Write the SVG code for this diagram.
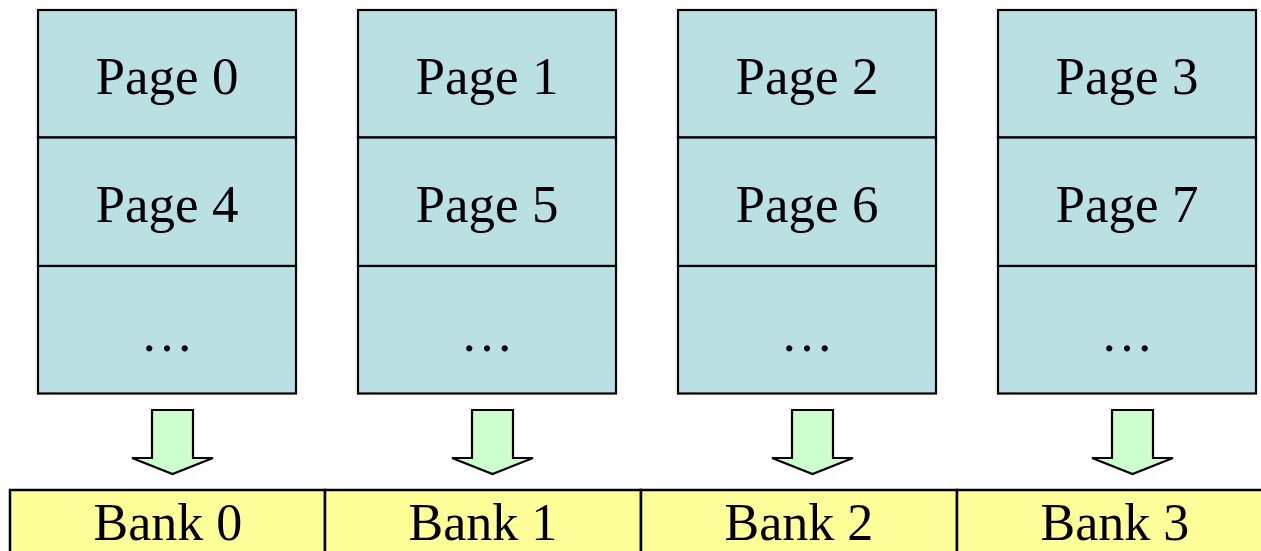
<svg xmlns="http://www.w3.org/2000/svg" width="1261" height="551" viewBox="0 0 1261 551">
  <style>
    .cell { fill: #bae0e3; stroke: #000; stroke-width: 2.2; }
    .bank { fill: #ffff99; stroke: #000; stroke-width: 2.5; }
    .down { fill: #ccffcc; stroke: #000; stroke-width: 2.2; stroke-linejoin: miter; }
    .lbl { font-family: "Liberation Serif", "Times New Roman", serif; font-size: 53px; fill: #000; text-anchor: middle; }
    .blbl { font-family: "Liberation Serif", "Times New Roman", serif; font-size: 52px; fill: #000; text-anchor: middle; }
  </style>
  <defs>
    <path id="downArrow" class="down" d="M-21,0 H20 V48 H40 L-0.5,64 L-41,48 H-21 Z"/>
  </defs>

  <rect width="1261" height="551" fill="#fff"/>

  <!-- page columns -->
  <g id="column-0">
    <rect class="cell" x="38" y="10" width="258" height="127.5"/>
    <rect class="cell" x="38" y="137.5" width="258" height="128.5"/>
    <rect class="cell" x="38" y="266" width="258" height="127.5"/>
    <text class="lbl" x="167" y="94">Page 0</text>
    <text class="lbl" x="167" y="222">Page 4</text>
    <text class="lbl" x="167" y="351">…</text>
  </g>
  <g id="column-1">
    <rect class="cell" x="358" y="10" width="258" height="127.5"/>
    <rect class="cell" x="358" y="137.5" width="258" height="128.5"/>
    <rect class="cell" x="358" y="266" width="258" height="127.5"/>
    <text class="lbl" x="487" y="94">Page 1</text>
    <text class="lbl" x="487" y="222">Page 5</text>
    <text class="lbl" x="487" y="351">…</text>
  </g>
  <g id="column-2">
    <rect class="cell" x="678" y="10" width="258" height="127.5"/>
    <rect class="cell" x="678" y="137.5" width="258" height="128.5"/>
    <rect class="cell" x="678" y="266" width="258" height="127.5"/>
    <text class="lbl" x="807" y="94">Page 2</text>
    <text class="lbl" x="807" y="222">Page 6</text>
    <text class="lbl" x="807" y="351">…</text>
  </g>
  <g id="column-3">
    <rect class="cell" x="998" y="10" width="258" height="127.5"/>
    <rect class="cell" x="998" y="137.5" width="258" height="128.5"/>
    <rect class="cell" x="998" y="266" width="258" height="127.5"/>
    <text class="lbl" x="1127" y="94">Page 3</text>
    <text class="lbl" x="1127" y="222">Page 7</text>
    <text class="lbl" x="1127" y="351">…</text>
  </g>

  <!-- block arrows from each column down to its bank -->
  <g id="connectors">
    <use href="#downArrow" x="173" y="410"/>
    <use href="#downArrow" x="493" y="410"/>
    <use href="#downArrow" x="813" y="410"/>
    <use href="#downArrow" x="1133" y="410"/>
  </g>

  <!-- bank row -->
  <g id="bank-0">
    <rect class="bank" x="10" y="490" width="315" height="70"/>
    <text class="blbl" x="168" y="540">Bank 0</text>
  </g>
  <g id="bank-1">
    <rect class="bank" x="325" y="490" width="316" height="70"/>
    <text class="blbl" x="483" y="540">Bank 1</text>
  </g>
  <g id="bank-2">
    <rect class="bank" x="641" y="490" width="316" height="70"/>
    <text class="blbl" x="799" y="540">Bank 2</text>
  </g>
  <g id="bank-3">
    <rect class="bank" x="957" y="490" width="316" height="70"/>
    <text class="blbl" x="1115" y="540">Bank 3</text>
  </g>
</svg>
